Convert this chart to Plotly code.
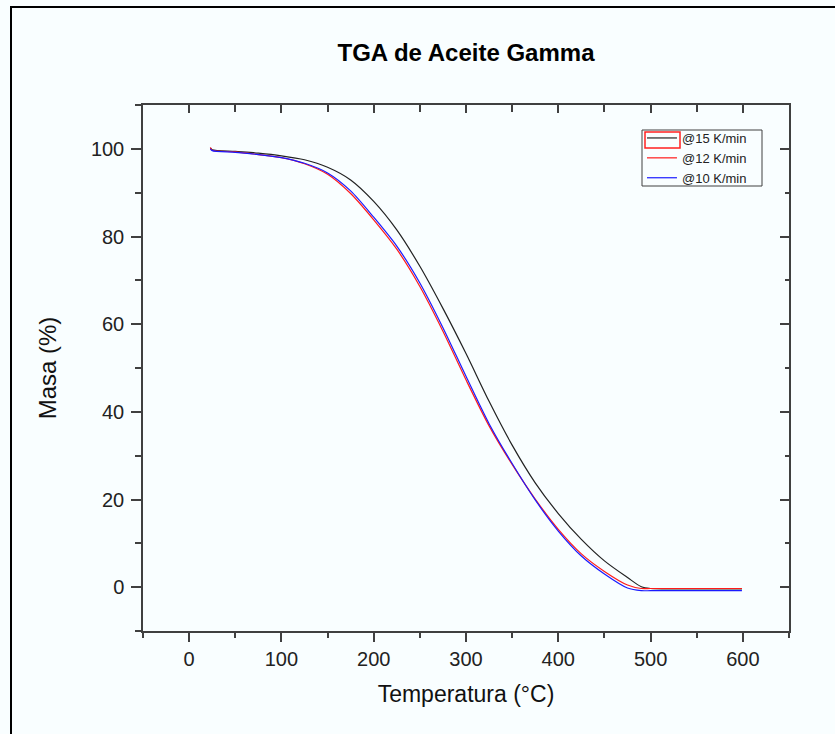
import plotly.graph_objects as go

# Temperature grid (°C)
temp = [23, 25, 50, 75, 100, 125, 150, 175, 200, 225, 250, 275, 300, 325, 350,
        375, 400, 425, 450, 475, 490, 500, 525, 550, 575, 599]

# Mass (%) for each heating rate
mass_15 = [100.2, 99.8, 99.4, 99.0, 98.4, 97.5, 95.8, 92.9, 88.0, 81.5, 73.2, 63.6,
           53.3, 42.4, 32.4, 23.8, 16.8, 10.9, 6.0, 2.2, 0.1, -0.3, -0.4, -0.4, -0.4, -0.4]
mass_12 = [100.3, 99.7, 99.3, 98.7, 98.0, 96.6, 94.2, 89.8, 83.8, 77.1, 68.6, 58.4,
           47.3, 36.8, 28.0, 20.1, 13.2, 7.6, 3.6, 0.5, -0.3, -0.3, -0.3, -0.3, -0.3, -0.3]
mass_10 = [100.0, 99.6, 99.2, 98.7, 98.0, 96.7, 94.5, 90.4, 84.4, 77.8, 69.4, 59.2,
           48.1, 37.3, 28.2, 19.9, 12.8, 7.1, 3.0, -0.2, -0.8, -0.8, -0.8, -0.8, -0.8, -0.8]

names = ["@15 K/min", "@12 K/min", "@10 K/min"]
colors = ["#222222", "#ff1a1a", "#1a1aff"]

x_ticks = [0, 100, 200, 300, 400, 500, 600]
y_ticks = [0, 20, 40, 60, 80, 100]

FONT = "Liberation Sans, Arial, sans-serif"
BG = "#f9feff"
AX = "#404040"

fig = go.Figure()
for name, ys, c in zip(names, [mass_15, mass_12, mass_10], colors):
    fig.add_trace(go.Scatter(x=temp, y=ys, mode="lines", name=name,
                             line=dict(color=c, width=1.2, shape="spline",
                                       smoothing=0.8)))
# helper trace for the mirrored (top/right) axes
fig.add_trace(go.Scatter(x=[None], y=[None], xaxis="x2", yaxis="y2",
                         showlegend=False, hoverinfo="skip"))

axis_common = dict(showgrid=False, zeroline=False, showline=True,
                   linecolor=AX, linewidth=1.5, tickcolor=AX, tickwidth=1.5)

fig.update_layout(
    width=835, height=734,
    margin=dict(l=143, r=46, t=105, b=103),
    paper_bgcolor=BG, plot_bgcolor=BG,
    font=dict(family=FONT, color="#222222"),
    title=dict(text="TGA de Aceite Gamma", x=0.5, xref="paper", xanchor="center",
               y=1 - 53 / 734, yanchor="middle",
               font=dict(family=FONT, size=24, color="black", weight="bold")),
    xaxis=dict(range=[-50, 650], tickvals=x_ticks, ticks="outside", ticklen=9,
               tickfont=dict(size=20, color="#222222"),
               minor=dict(dtick=50, tick0=0, ticks="outside", ticklen=5,
                          tickcolor=AX, tickwidth=1.5),
               title=dict(text="Temperatura (°C)", standoff=17,
                          font=dict(size=23, color="#111111")),
               anchor="y", **axis_common),
    yaxis=dict(range=[-10, 110], tickvals=y_ticks, ticks="outside", ticklen=10,
               tickfont=dict(size=20, color="#222222"), ticklabelstandoff=3,
               minor=dict(dtick=10, tick0=0, ticks="outside", ticklen=6,
                          tickcolor=AX, tickwidth=1.5),
               title=dict(text="Masa (%)", standoff=27,
                          font=dict(size=24, color="#111111")),
               anchor="x", **axis_common),
    xaxis2=dict(range=[-50, 650], overlaying="x", side="top", anchor="y2",
                tickvals=x_ticks, ticks="inside", ticklen=8, showticklabels=False,
                minor=dict(dtick=50, tick0=0, ticks="inside", ticklen=7,
                           tickcolor=AX, tickwidth=1.5),
                **axis_common),
    yaxis2=dict(range=[-10, 110], overlaying="y", side="right", anchor="x2",
                tickvals=y_ticks, ticks="inside", ticklen=9, showticklabels=False,
                minor=dict(dtick=10, tick0=0, ticks="inside", ticklen=4,
                           tickcolor=AX, tickwidth=1.5),
                **axis_common),
    legend=dict(x=0.7724, y=(631 - 123) / 526, xanchor="left", yanchor="top",
                bgcolor="rgba(0,0,0,0)", borderwidth=0,
                font=dict(family=FONT, size=13, color="#222222"),
                tracegroupgap=0, itemwidth=30),
    showlegend=True,
    shapes=[
        # outer frame of the figure
        dict(type="rect", xref="paper", yref="paper",
             x0=(11 - 143) / 646, x1=1.3, y0=-0.3, y1=(631 - 7) / 526,
             line=dict(color="black", width=2), fillcolor="rgba(0,0,0,0)",
             layer="above"),
        # legend frame
        dict(type="rect", xref="paper", yref="paper",
             x0=(642 - 143) / 646, x1=(762 - 143) / 646,
             y0=(631 - 186) / 526, y1=(631 - 130) / 526,
             line=dict(color=AX, width=1), fillcolor="rgba(0,0,0,0)",
             layer="above"),
        # red highlight box around the first legend symbol
        dict(type="rect", xref="paper", yref="paper",
             x0=(645 - 143) / 646, x1=(680 - 143) / 646,
             y0=(631 - 148) / 526, y1=(631 - 132) / 526,
             line=dict(color="#ff2020", width=1.5), fillcolor="rgba(0,0,0,0)",
             layer="above"),
    ],
)

fig.write_html("out.html")
